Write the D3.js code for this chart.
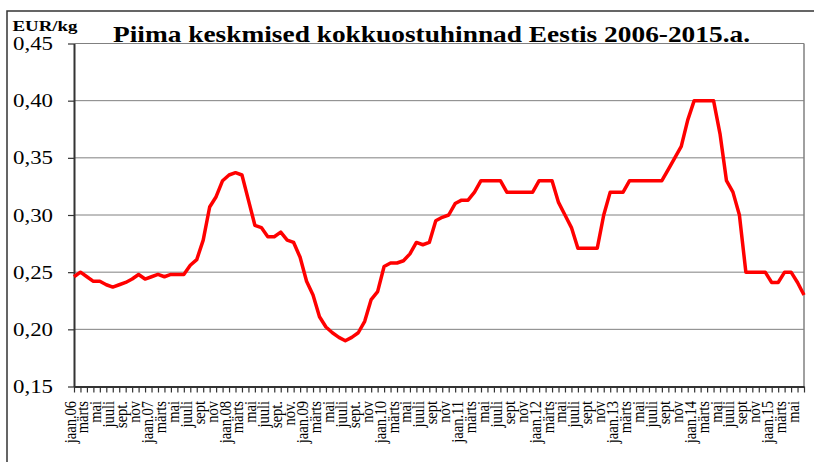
<!DOCTYPE html>
<html>
<head>
<meta charset="utf-8">
<script src="https://cdn.jsdelivr.net/npm/d3@7"></script>
<style>
  body { margin: 0; background: #fff; }
  text { font-family: "Liberation Serif", "Times New Roman", serif; fill: #000; }
</style>
</head>
<body>
<svg width="814" height="462"></svg>
<script>
// monthly average purchase prices, jaan.06 .. juuni 2015 (EUR/kg)
const prices = [
  0.246, 0.250, 0.246, 0.242, 0.242, 0.239, 0.237, 0.239, 0.241, 0.244, 0.248, 0.244,
  0.246, 0.248, 0.246, 0.248, 0.248, 0.248, 0.256, 0.261, 0.278, 0.307, 0.316, 0.330,
  0.335, 0.337, 0.335, 0.313, 0.291, 0.289, 0.281, 0.281, 0.285, 0.278, 0.276, 0.263,
  0.242, 0.230, 0.211, 0.202, 0.197, 0.193, 0.190, 0.193, 0.197, 0.207, 0.226, 0.233,
  0.255, 0.258, 0.258, 0.260, 0.266, 0.276, 0.274, 0.276, 0.295, 0.298, 0.300, 0.310,
  0.313, 0.313, 0.320, 0.330, 0.330, 0.330, 0.330, 0.320, 0.320, 0.320, 0.320, 0.320,
  0.330, 0.330, 0.330, 0.311, 0.300, 0.289, 0.271, 0.271, 0.271, 0.271, 0.300, 0.320,
  0.320, 0.320, 0.330, 0.330, 0.330, 0.330, 0.330, 0.330, 0.340, 0.350, 0.360, 0.383,
  0.400, 0.400, 0.400, 0.400, 0.371, 0.330, 0.320, 0.300, 0.250, 0.250, 0.250, 0.250,
  0.241, 0.241, 0.250, 0.250, 0.241, 0.230
];

// labels shown on every second month
const tickLabels = [
  "jaan.06", "märts", "mai", "juuli", "sept.", "nov",
  "jaan.07", "märts", "mai", "juuli", "sept", "nov",
  "jaan.08", "märts", "mai", "juuli", "sept.", "nov.",
  "jaan.09", "märts", "mai", "juuli", "sept.", "nov",
  "jaan.10", "märts", "mai", "juuli", "sept", "nov",
  "jaan.11", "märts", "mai", "juuli", "sept", "nov",
  "jaan.12", "märts", "mai", "juuli", "sept", "nov",
  "jaan.13", "märts", "mai", "juuli", "sept", "nov",
  "jaan.14", "märts", "mai", "juuli", "sept", "nov",
  "jaan.15", "märts", "mai"
];

const yTicks = [0.15, 0.20, 0.25, 0.30, 0.35, 0.40, 0.45];

const svg = d3.select("svg");

const plot = { left: 74, right: 804, top: 43.5, bottom: 386.5 };

const x = d3.scaleLinear()
  .domain([0, prices.length - 1])
  .range([plot.left, plot.right]);

const y = d3.scaleLinear()
  .domain([0.15, 0.45])
  .range([plot.bottom, plot.top]);

// outer chart frame
svg.append("rect")
  .attr("x", 7)
  .attr("y", 11)
  .attr("width", 830)
  .attr("height", 470)
  .attr("fill", "none")
  .attr("stroke", "#333")
  .attr("stroke-width", 1.5);

// gridlines
svg.append("g")
  .attr("class", "grid")
  .selectAll("line")
  .data(yTicks.slice(1))
  .join("line")
  .attr("x1", plot.left)
  .attr("x2", plot.right)
  .attr("y1", d => y(d))
  .attr("y2", d => y(d))
  .attr("stroke", "#808080")
  .attr("stroke-width", 1);

// right border of the plot area
svg.append("line")
  .attr("x1", plot.right)
  .attr("x2", plot.right)
  .attr("y1", plot.top)
  .attr("y2", plot.bottom)
  .attr("stroke", "#808080")
  .attr("stroke-width", 1.5);

// y axis
const leftAxis = d3.axisLeft(y)
  .tickValues(yTicks)
  .tickSizeInner(6)
  .tickSizeOuter(0)
  .tickPadding(15)
  .tickFormat(d => d3.format(".2f")(d).replace(".", ","));

const yAxis = svg.append("g")
  .attr("class", "left axis")
  .attr("transform", `translate(${plot.left},0)`)
  .call(leftAxis);

yAxis.select(".domain").attr("stroke", "#333").attr("stroke-width", 2);
yAxis.selectAll(".tick line").attr("stroke", "#333").attr("stroke-width", 1.2);
yAxis.selectAll(".tick text")
  .attr("font-size", "19px")
  .attr("font-family", "Liberation Serif, serif")
  .attr("textLength", 40)
  .attr("lengthAdjust", "spacingAndGlyphs");

// x axis: a tick for every month, no library labels
const bottomAxis = d3.axisBottom(x)
  .tickValues(d3.range(prices.length))
  .tickSizeInner(6)
  .tickSizeOuter(0)
  .tickFormat("");

const xAxis = svg.append("g")
  .attr("class", "bottom axis")
  .attr("transform", `translate(0,${plot.bottom})`)
  .call(bottomAxis);

xAxis.select(".domain").attr("stroke", "#333").attr("stroke-width", 2);
xAxis.selectAll(".tick line").attr("stroke", "#333").attr("stroke-width", 1.2);

// rotated month labels (glyphs a bit wider, like the original)
svg.append("g")
  .attr("class", "x labels")
  .selectAll("text")
  .data(tickLabels)
  .join("text")
  .attr("transform", (d, i) => `translate(${x(i * 2) + 1.5},401) rotate(-90) scale(1,1.2)`)
  .attr("text-anchor", "end")
  .attr("font-size", "14.5px")
  .text(d => d);

// price line
const line = d3.line()
  .x((d, i) => x(i))
  .y(d => y(d));

svg.append("path")
  .datum(prices)
  .attr("class", "price line")
  .attr("d", line)
  .attr("fill", "none")
  .attr("stroke", "#ff0000")
  .attr("stroke-width", 3.5)
  .attr("stroke-linejoin", "round");

// y axis-label
svg.append("text")
  .attr("class", "y axis-label")
  .attr("x", 12.5)
  .attr("y", 31)
  .attr("font-size", "15px")
  .attr("font-weight", "bold")
  .attr("textLength", 65)
  .attr("lengthAdjust", "spacingAndGlyphs")
  .text("EUR/kg");

// title
svg.append("text")
  .attr("class", "title")
  .attr("x", 113)
  .attr("y", 42)
  .attr("font-size", "23px")
  .attr("font-weight", "bold")
  .attr("textLength", 637)
  .attr("lengthAdjust", "spacingAndGlyphs")
  .text("Piima keskmised kokkuostuhinnad Eestis 2006-2015.a.");
</script>
</body>
</html>
